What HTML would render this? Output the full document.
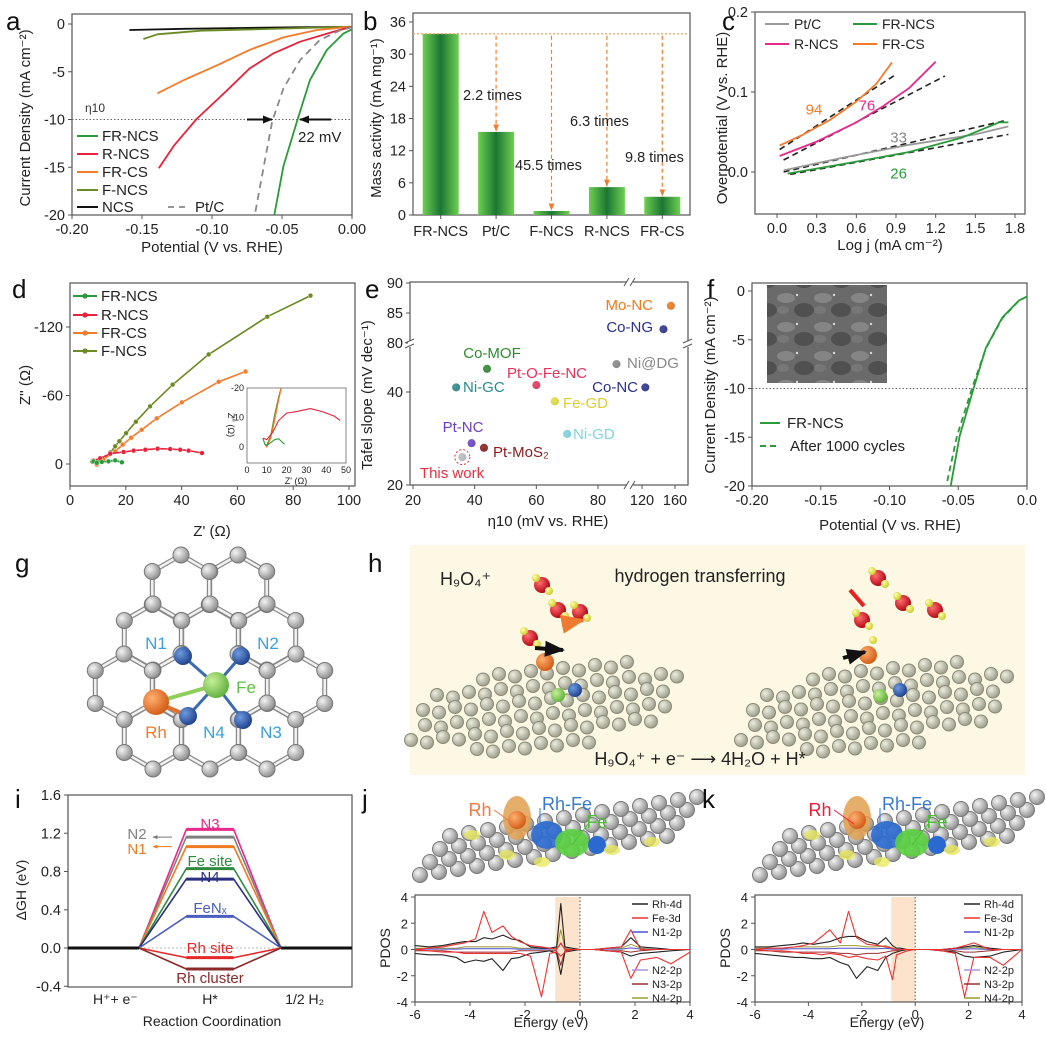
<!DOCTYPE html>
<html><head><meta charset="utf-8">
<style>
html,body{margin:0;padding:0;background:#fff;}
svg{display:block;font-family:"Liberation Sans",Arial,sans-serif;}
</style></head>
<body>
<svg id="fig" width="1046" height="1040" viewBox="0 0 1046 1040">
<defs>
<linearGradient id="barg" x1="0" x2="1" y1="0" y2="0"><stop offset="0" stop-color="#6fcf52"/><stop offset="0.5" stop-color="#1b7633"/><stop offset="1" stop-color="#6fcf52"/></linearGradient>
<radialGradient id="gAtom" cx="0.35" cy="0.35" r="0.7"><stop offset="0" stop-color="#f4f4f4"/><stop offset="1" stop-color="#8a8a8a"/></radialGradient>
<radialGradient id="bAtom" cx="0.35" cy="0.35" r="0.7"><stop offset="0" stop-color="#6f9be0"/><stop offset="1" stop-color="#1c3f8a"/></radialGradient>
<radialGradient id="fAtom" cx="0.35" cy="0.35" r="0.7"><stop offset="0" stop-color="#c8f09a"/><stop offset="1" stop-color="#5fb03a"/></radialGradient>
<radialGradient id="oAtom" cx="0.35" cy="0.35" r="0.7"><stop offset="0" stop-color="#ffb070"/><stop offset="1" stop-color="#d05a14"/></radialGradient>
<radialGradient id="rAtom" cx="0.35" cy="0.35" r="0.7"><stop offset="0" stop-color="#ff7070"/><stop offset="1" stop-color="#b00010"/></radialGradient>
<radialGradient id="yAtom" cx="0.35" cy="0.35" r="0.7"><stop offset="0" stop-color="#ffffb0"/><stop offset="1" stop-color="#c8c820"/></radialGradient>
<radialGradient id="sAtom" cx="0.35" cy="0.35" r="0.7"><stop offset="0" stop-color="#eeeee0"/><stop offset="1" stop-color="#9a9a88"/></radialGradient>
<marker id="arrO" viewBox="0 0 10 10" refX="9" refY="5" markerWidth="6" markerHeight="6" orient="auto"><path d="M0,1L10,5L0,9z" fill="#f07a30"/></marker>
<marker id="arrK" viewBox="0 0 10 10" refX="9" refY="5" markerWidth="5" markerHeight="5" orient="auto"><path d="M0,1L10,5L0,9z" fill="#111"/></marker>
<marker id="arrG" viewBox="0 0 10 10" refX="9" refY="5" markerWidth="5" markerHeight="5" orient="auto"><path d="M0,1L10,5L0,9z" fill="#777"/></marker>
<marker id="arrN" viewBox="0 0 10 10" refX="9" refY="5" markerWidth="5" markerHeight="5" orient="auto"><path d="M0,1L10,5L0,9z" fill="#f07a20"/></marker>
<pattern id="tem" width="37" height="29" patternUnits="userSpaceOnUse"><rect width="37" height="29" fill="#6a6a6a"/><ellipse cx="9" cy="8" rx="9" ry="5" fill="#858585"/><ellipse cx="27" cy="20" rx="10" ry="7" fill="#505050"/><circle cx="20" cy="5" r="1.2" fill="#d8d8d8"/><circle cx="4" cy="22" r="1" fill="#cfcfcf"/><ellipse cx="6" cy="20" rx="6" ry="4" fill="#777"/></pattern>
</defs>
</svg>
<script>
const NS='http://www.w3.org/2000/svg';
const svg=document.getElementById('fig');

/* ---------- data ---------- */
// panel a
const aNCSx=[-0.159,-0.12,-0.08,-0.04,0];
const aNCSy=[-0.63,-0.5,-0.42,-0.35,-0.3];
const aFNCSx=[-0.149,-0.139,-0.108,-0.061,-0.001];
const aFNCSy=[-1.57,-1.08,-0.7,-0.52,-0.28];
const aFRCSx=[-0.139,-0.12,-0.096,-0.073,-0.049,-0.025,-0.001];
const aFRCSy=[-7.26,-5.86,-4.3,-2.7,-1.4,-0.63,-0.3];
const aRNCSx=[-0.138,-0.127,-0.111,-0.092,-0.073,-0.056,-0.037,-0.013,0];
const aRNCSy=[-15.1,-12.7,-9.95,-7.33,-4.64,-3.07,-1.85,-0.8,-0.28];
const aPtCx=[-0.069,-0.063,-0.057,-0.049,-0.037,-0.023,-0.008,0];
const aPtCy=[-19.65,-14.9,-10.2,-6.74,-3.77,-1.68,-0.63,-0.35];
const aFRNCSx=[-0.0555,-0.049,-0.039,-0.03,-0.018,-0.006,0];
const aFRNCSy=[-20,-14.9,-10.05,-5.86,-2.72,-0.98,-0.56];
const aXTicks=[-0.2,-0.15,-0.1,-0.05,0];
const aXLabels=['-0.20','-0.15','-0.10','-0.05','0.00'];
const aYTicks=[0,-5,-10,-15,-20];
// panel b
const bCats=['FR-NCS','Pt/C','F-NCS','R-NCS','FR-CS'];
const bVals=[33.8,15.5,0.75,5.2,3.4];
const bNotes=['','2.2 times','45.5 times','6.3 times','9.8 times'];
const bYTicks=[0,6,12,18,24,30,36];
// panel c
const cFRCSx=[0.02,0.2,0.4,0.6,0.75,0.87];
const cFRCSy=[0.033,0.047,0.065,0.088,0.11,0.137];
const cRNCSx=[0.02,0.3,0.6,0.8,1.0,1.2];
const cRNCSy=[0.02,0.038,0.062,0.082,0.105,0.138];
const cPtCx=[0.05,0.5,1.0,1.5,1.75];
const cPtCy=[0.002,0.018,0.034,0.047,0.057];
const cFRNCSx=[0.08,0.5,1.0,1.4,1.68,1.75];
const cFRNCSy=[-0.002,0.01,0.025,0.043,0.062,0.062];
const cFitFRCSx=[0.02,0.9], cFitFRCSy=[0.028,0.122];
const cFitRNCSx=[0.05,1.27], cFitRNCSy=[0.015,0.12];
const cFitPtCx=[0.05,1.72], cFitPtCy=[0.0,0.064];
const cFitFRNCSx=[0.1,1.75], cFitFRNCSy=[-0.003,0.047];
const cSlopes=['94','76','33','26'];
const cXTicks=[0,0.3,0.6,0.9,1.2,1.5,1.8];
const cYTicks=[0,0.1,0.2];
// panel d (values are -Z'')
const dFRNCSx=[8.4,9.6,11.4,13.8,16.2,18.6];
const dFRNCSy=[2.3,1,1.8,2.3,3.2,1.5];
const dRNCSx=[8.4,10.8,14.4,19.2,22.8,27,31.4,35.9,39.5,42.5,47.3];
const dRNCSy=[3,5,9,10.5,11.7,12.5,13.4,13.1,12.5,11.7,9.6];
const dFRCSx=[9.6,12,16.2,18.9,21.9,25.7,31.1,40.1,53.3,62.9];
const dFRCSy=[-0.5,4,11,17,23,30,40,54,72,81];
const dFNCSx=[8,10,12,14.4,16.2,17.7,20.1,23.6,28.7,36.8,49.7,70.7,86.2];
const dFNCSy=[2,2,4,10,15.5,20,27,37,50.5,69.5,96,129,147.5];
const dInRx=[8,10,13,16,20,25,32,38,44,47];
const dInRy=[3,2.5,5,9,11.5,12,13,12,10.5,9];
const dInGx=[8,9,10,12,14,16,18,19];
const dInGy=[3,1,0.5,1.5,2.5,2.8,1.5,1];
const dInOx=[9,10,12,14,16,18];
const dInOy=[1,0,3,9,16,22];
const dInFx=[9,10,12,14,16,18];
const dInFy=[1,0.5,4,11,17,22];
const dXTicks=[0,20,40,60,80,100];
const dYTicks=[0,60,120];
// panel e
const eNames=['This work','Pt-NC','Pt-MoS2','Co-MOF','Ni-GC','Pt-O-Fe-NC','Fe-GD','Ni-GD','Ni@DG','Co-NC','Mo-NC','Co-NG'];
const eEta=[36,39,43,44,34,60,66,70,86,124,155,146];
const eTafel=[26,29,28,45,41,41.5,38,31,46,41,86.2,82.3];
// panel f
const fFRNCSx=[-0.0555,-0.049,-0.039,-0.03,-0.018,-0.006,0];
const fFRNCSy=[-20,-14.9,-10.05,-5.86,-2.72,-0.98,-0.56];
const fAfterx=[-0.058,-0.051,-0.04,-0.03,-0.018,-0.006,0];
const fAftery=[-19.5,-14.9,-10,-5.9,-2.8,-1.0,-0.56];
// panel i
const iNames=['N3','N2','N1','Fe site','N4','FeNx','Rh site','Rh cluster'];
const iLevels=[1.24,1.16,1.06,0.83,0.72,0.33,-0.10,-0.22];
const iYTicks=[-0.4,0,0.4,0.8,1.2,1.6];
// panels j,k
const pE=[-6,-5.5,-5,-4.5,-4.2,-3.8,-3.5,-3.2,-2.8,-2.5,-2.2,-1.8,-1.4,-1.1,-0.85,-0.7,-0.55,-0.3,0,0.5,1,1.5,1.85,2.2,2.8,3.3,4];
const jFeUp=[0,0.1,0.2,0.4,0.5,0.8,2.9,1.3,1.8,1,0.6,0.3,0.2,0.1,0,0.5,0,0,0,0,0.1,0.2,1.5,0,0,0,0];
const jFeDn=[0,-0.1,-0.2,-0.2,-0.3,-0.3,-0.3,-0.3,-0.3,-0.3,-0.3,-0.5,-3.6,-0.3,-0.2,-0.5,-0.2,0,0,0,-0.1,-0.2,-2.2,-0.8,-0.6,-1.1,-0.2];
const jRhUp=[0.3,0.2,0.3,0.5,0.6,0.6,0.9,0.8,1.1,0.8,0.7,0.2,0.1,0.1,0.2,3.5,0.2,0.1,0,0,0.1,0.2,0.9,0.2,0.1,0,0];
const jRhDn=[-0.3,-0.4,-0.4,-0.6,-1,-0.8,-0.9,-0.7,-1.6,-0.7,-0.6,-0.3,-0.2,-0.1,-0.3,-1.9,-0.2,-0.1,0,0,-0.1,-0.2,-0.5,-0.3,-0.2,-0.1,0];
const jNUp=[0.1,0.1,0.1,0.1,0.2,0.2,0.2,0.2,0.2,0.2,0.1,0.1,0.1,0.1,0.1,1.5,0.1,0,0,0,0.1,0.1,0.4,0.1,0,0,0];
const jNDn=[-0.1,-0.1,-0.1,-0.2,-0.2,-0.2,-0.2,-0.2,-0.2,-0.2,-0.1,-0.1,-0.1,-0.1,-0.1,-1.2,-0.1,0,0,0,-0.1,-0.1,-0.2,-0.1,0,0,0];
const kFeUp=[0,0.1,0.1,0.2,0.3,0.5,1.0,1.5,0.5,2.9,0.9,0.4,0.3,0.2,0.1,0,0,0,0,0,0,0.1,0.3,0.5,0,0,0];
const kFeDn=[0,-0.1,-0.1,-0.2,-0.3,-0.3,-0.4,-0.3,-0.4,-0.6,-0.5,-0.7,-0.8,-0.5,-2.3,-0.4,-0.3,-0.1,0,0,-0.1,-0.3,-3.6,-0.6,-0.6,-1.2,0];
const kRhUp=[0.2,0.2,0.3,0.4,0.5,0.4,0.5,0.6,0.9,1.0,1.0,0.6,0.4,0.9,0.3,0.1,0.1,0,0,0,0,0.1,0.2,0.3,0.1,0,0];
const kRhDn=[-0.3,-0.4,-0.5,-0.6,-0.6,-0.7,-0.7,-0.6,-1.0,-1.2,-2.2,-1.3,-1.6,-0.6,-0.3,-0.2,-0.1,0,0,0,-0.1,-0.2,-0.5,-0.6,-0.5,-0.2,0];
const kNUp=[0.1,0.1,0.1,0.2,0.2,0.2,0.2,0.2,0.3,0.3,0.3,0.2,0.2,0.3,0.1,0,0,0,0,0,0,0.1,0.1,0.2,0,0,0];
const kNDn=[-0.1,-0.1,-0.2,-0.2,-0.2,-0.2,-0.2,-0.2,-0.3,-0.3,-0.4,-0.3,-0.3,-0.2,-0.1,-0.1,0,0,0,0,0,-0.1,-0.2,-0.2,-0.1,0,0];
const pXTicks=[-6,-4,-2,0,2,4];
const pYTicks=[-4,-2,0,2,4];

/* ---------- helpers ---------- */
function el(tag,attrs,name,parent){
  const e=document.createElementNS(NS,tag);
  for(const k in attrs)e.setAttribute(k,attrs[k]);
  
  
  (parent||svg).appendChild(e);return e;
}
function tx(x,y,s,o,name){
  o=o||{};
  const at={x:x,y:y,'font-size':o.fs||14,'text-anchor':o.a||'middle',fill:o.c||'#222'};
  if(o.t)at.transform=o.t;
  const e=el('text',at,name,o.p);
  e.textContent=s;return e;
}
function lin(d0,d1,r0,r1){return v=>r0+(v-d0)*(r1-r0)/(d1-d0);}
function pth(xs,ys,sx,sy){return xs.map((x,i)=>(i?'L':'M')+sx(x).toFixed(1)+','+sy(ys[i]).toFixed(1)).join('');}
function line(xs,ys,sx,sy,color,w,name,dash){
  const a={d:pth(xs,ys,sx,sy),fill:'none',stroke:color,'stroke-width':w||1.6,'stroke-linejoin':'round'};
  if(dash)a['stroke-dasharray']=dash;
  return el('path',a,name);
}
function frame(x0,y0,x1,y1,name){el('rect',{x:x0,y:y0,width:x1-x0,height:y1-y0,fill:'none',stroke:'#555','stroke-width':1.2},name);}
function xticks(vals,labels,sx,yb,name,fs){vals.forEach((v,i)=>{
  el('line',{x1:sx(v),x2:sx(v),y1:yb,y2:yb+4,stroke:'#555'},name+'-tick');
  if(labels[i]!=null)tx(sx(v),yb+(fs?fs+4:19),labels[i],{fs:fs||14.5},name+'-label');});}
function yticks(vals,labels,sy,xl,name,fs){vals.forEach((v,i)=>{
  el('line',{x1:xl-4,x2:xl,y1:sy(v),y2:sy(v),stroke:'#555'},name+'-tick');
  if(labels[i]!=null)tx(xl-7,sy(v)+5,labels[i],{fs:fs||14.5,a:'end'},name+'-label');});}
function letter(x,y,s){tx(x,y,s,{fs:26,a:'start',c:'#111'},'panel-label-'+s);}
function atom(x,y,r,g,name){return el('circle',{cx:x,cy:y,r:r,fill:'url(#'+g+')'},name);}

/* ---------- panel a ---------- */
letter(6,30,'a');
const xa=lin(-0.2,0,72,352), ya=lin(0,-20,24,215);
frame(72,14,352,215,'panel-a-frame');
xticks(aXTicks,aXLabels,xa,215,'a-x');
yticks(aYTicks,aYTicks.map(String),ya,72,'a-y');
el('line',{x1:72,x2:352,y1:ya(-10),y2:ya(-10),stroke:'#666','stroke-dasharray':'1.5,2','stroke-width':1},'a-eta10-line');
tx(85,112,'η10',{fs:12,a:'start',c:'#333'},'a-eta10-label');
line(aNCSx,aNCSy,xa,ya,'#111',1.8,'a-series-ncs');
line(aFNCSx,aFNCSy,xa,ya,'#6b8a23',1.8,'a-series-fncs');
line(aFRCSx,aFRCSy,xa,ya,'#f47b2a',1.8,'a-series-frcs');
line(aRNCSx,aRNCSy,xa,ya,'#e8223a',1.8,'a-series-rncs');
line(aPtCx,aPtCy,xa,ya,'#888',1.8,'a-series-ptc','7,5');
line(aFRNCSx,aFRNCSy,xa,ya,'#2a9a3a',1.8,'a-series-frncs');
el('line',{x1:247,y1:ya(-10),x2:272,y2:ya(-10),stroke:'#111','stroke-width':2,'marker-end':'url(#arrK)'},'a-arrow-left');
el('line',{x1:331,y1:ya(-10),x2:300,y2:ya(-10),stroke:'#111','stroke-width':2,'marker-end':'url(#arrK)'},'a-arrow-right');
tx(298,142,'22 mV',{fs:15,a:'start'},'a-22mv-label');
[['FR-NCS','#2a9a3a',136],['R-NCS','#e8223a',154],['FR-CS','#f47b2a',172],['F-NCS','#6b8a23',190],['NCS','#111',207]].forEach(r=>{
  el('line',{x1:77,x2:98,y1:r[2],y2:r[2],stroke:r[1],'stroke-width':2},'a-legend-line');
  tx(102,r[2]+5,r[0],{fs:15,a:'start'},'a-legend-label');});
el('line',{x1:168,x2:187,y1:207,y2:207,stroke:'#888','stroke-width':1.8,'stroke-dasharray':'6,5'},'a-legend-line-ptc');
tx(195,212,'Pt/C',{fs:15,a:'start'},'a-legend-label-ptc');
tx(30,118,'Current Density (mA cm⁻²)',{fs:15,t:'rotate(-90 30 118)'},'a-y-axis-title');
tx(212,252,'Potential (V vs. RHE)',{fs:15},'a-x-axis-title');

/* ---------- panel b ---------- */
letter(363,30,'b');
const yb=lin(0,36,215,22);
const bx0=413,bx1=690,bStep=(bx1-bx0)/bCats.length;
const xb=i=>bx0+bStep*(i+0.5);
frame(bx0,13,bx1,215,'panel-b-frame');
yticks(bYTicks,bYTicks.map(String),yb,bx0,'b-y');
bCats.forEach((c,i)=>{
  el('rect',{x:xb(i)-18,y:yb(bVals[i]),width:36,height:yb(0)-yb(bVals[i]),fill:'url(#barg)'},'b-bar-'+c.toLowerCase().replace('/',''));
  el('line',{x1:xb(i),x2:xb(i),y1:215,y2:219,stroke:'#555'},'b-x-tick');
  tx(xb(i),236,c,{fs:14.5},'b-x-label');
});
el('line',{x1:bx0,x2:bx1,y1:yb(bVals[0]),y2:yb(bVals[0]),stroke:'#f49a50','stroke-dasharray':'2,2','stroke-width':1.2},'b-reference-line');
bCats.forEach((c,i)=>{ if(i===0)return;
  el('line',{x1:xb(i),x2:xb(i),y1:yb(bVals[0])+2,y2:yb(bVals[i])-1,stroke:'#f07a30','stroke-width':1.2,'stroke-dasharray':'4,3','marker-end':'url(#arrO)'},'b-ratio-arrow');
});
[[463,100,'start'],[515,170,'start'],[570,126,'start'],[625,162,'start']].forEach((p,k)=>tx(p[0],p[1],bNotes[k+1],{fs:14.5,a:p[2]},'b-ratio-note'));
tx(381,118,'Mass activity (mA mg⁻¹)',{fs:15,t:'rotate(-90 381 118)'},'b-y-axis-title');

/* ---------- panel c ---------- */
letter(722,30,'c');
const xc=lin(0,1.8,777,1015), yc=lin(0,0.2,172,12);
frame(755,12,1025,214,'panel-c-frame');
xticks(cXTicks,cXTicks.map(v=>v.toFixed(1)),xc,214,'c-x');
yticks(cYTicks,cYTicks.map(v=>v.toFixed(1)),yc,755,'c-y');
line(cFitFRCSx,cFitFRCSy,xc,yc,'#222',1.6,'c-fit-frcs','6,4');
line(cFitRNCSx,cFitRNCSy,xc,yc,'#222',1.6,'c-fit-rncs','6,4');
line(cFitPtCx,cFitPtCy,xc,yc,'#222',1.6,'c-fit-ptc','6,4');
line(cFitFRNCSx,cFitFRNCSy,xc,yc,'#222',1.6,'c-fit-frncs','6,4');
line(cFRCSx,cFRCSy,xc,yc,'#f47b2a',1.8,'c-series-frcs');
line(cRNCSx,cRNCSy,xc,yc,'#e8288a',1.8,'c-series-rncs');
line(cPtCx,cPtCy,xc,yc,'#999',1.8,'c-series-ptc');
line(cFRNCSx,cFRNCSy,xc,yc,'#2a9a3a',1.8,'c-series-frncs');
tx(xc(0.28),yc(0.072),cSlopes[0],{fs:15,c:'#f47b2a'},'c-slope-frcs');
tx(xc(0.68),yc(0.077),cSlopes[1],{fs:15,c:'#e8288a'},'c-slope-rncs');
tx(xc(0.92),yc(0.037),cSlopes[2],{fs:15,c:'#888'},'c-slope-ptc');
tx(xc(0.92),yc(-0.008),cSlopes[3],{fs:15,c:'#2a9a3a'},'c-slope-frncs');
[['Pt/C','#999',765,24],['FR-NCS','#2a9a3a',853,24],['R-NCS','#e8288a',765,44],['FR-CS','#f47b2a',853,44]].forEach(r=>{
  el('line',{x1:r[2],x2:r[2]+24,y1:r[3],y2:r[3],stroke:r[1],'stroke-width':2},'c-legend-line');
  tx(r[2]+29,r[3]+5,r[0],{fs:14,a:'start'},'c-legend-label');});
tx(727,118,'Overpotential (V vs. RHE)',{fs:15,t:'rotate(-90 727 118)'},'c-y-axis-title');
tx(890,250,'Log j (mA cm⁻²)',{fs:15},'c-x-axis-title');

/* ---------- panel d ---------- */
letter(12,298,'d');
const xd=lin(0,100,70,349), yd=lin(0,120,464,327);
frame(70,283,355,486,'panel-d-frame');
xticks(dXTicks,dXTicks.map(String),xd,486,'d-x');
yticks(dYTicks,dYTicks.map(v=>v?'-'+v:'0'),yd,70,'d-y');
function dSeries(xs,ys,sx,sy,color,name,r){
  line(xs,ys,sx,sy,color,1.6,name);
  xs.forEach((x,i)=>el('circle',{cx:sx(x),cy:sy(ys[i]),r:r,fill:color,stroke:'#fff','stroke-width':0.4},name+'-marker'));
}
dSeries(dFNCSx,dFNCSy,xd,yd,'#6b8a23','d-series-fncs',2.4);
dSeries(dFRCSx,dFRCSy,xd,yd,'#f47b2a','d-series-frcs',2.4);
dSeries(dRNCSx,dRNCSy,xd,yd,'#e8223a','d-series-rncs',2.4);
dSeries(dFRNCSx,dFRNCSy,xd,yd,'#2a9a3a','d-series-frncs',2.4);
[['FR-NCS','#2a9a3a',296],['R-NCS','#e8223a',315],['FR-CS','#f47b2a',333],['F-NCS','#6b8a23',351]].forEach(r=>{
  el('line',{x1:73,x2:97,y1:r[2],y2:r[2],stroke:r[1],'stroke-width':2},'d-legend-line');
  el('circle',{cx:85,cy:r[2],r:2.6,fill:r[1]},'d-legend-marker');
  tx(101,r[2]+5,r[0],{fs:15,a:'start'},'d-legend-label');});
const xdi=lin(0,50,247,346), ydi=lin(0,20,447,388);
el('rect',{x:247,y:388,width:99,height:75,fill:'#fff',stroke:'#666','stroke-width':0.8},'d-inset-frame');
el('clipPath',{id:'dclip'},'d-inset-clip');
el('rect',{x:247,y:388,width:99,height:75},'d-inset-clip-rect',document.getElementById('dclip'));
const dg=el('g',{'clip-path':'url(#dclip)'},'d-inset-plot');
[[dInFx,dInFy,'#6b8a23'],[dInOx,dInOy,'#f47b2a'],[dInRx,dInRy,'#e8223a'],[dInGx,dInGy,'#2a9a3a']].forEach((s,k)=>{
  el('path',{d:pth(s[0],s[1],xdi,ydi),fill:'none',stroke:s[2],'stroke-width':1.1},'d-inset-series',dg);});
[0,10,20,30,40,50].forEach(v=>tx(xdi(v),473,String(v),{fs:9},'d-inset-x-label'));
[0,10,20].forEach(v=>tx(244,ydi(v)+3,v?'-'+v:'0',{fs:9,a:'end'},'d-inset-y-label'));
tx(296,484,"Z' (Ω)",{fs:9},'d-inset-x-title');
tx(228,425,"Z'' (Ω)",{fs:9,t:'rotate(90 228 425)'},'d-inset-y-title');
tx(30,385,"Z'' (Ω)",{fs:15,t:'rotate(-90 30 385)'},'d-y-axis-title');
tx(212,536,"Z' (Ω)",{fs:15},'d-x-axis-title');

/* ---------- panel e ---------- */
letter(365,298,'e');
const exL=lin(20,80,413,598), exU=lin(120,160,642,675);
const eyL=lin(20,40,485,392), eyU=lin(85,90,313,283);
const ex=v=>v<=100?exL(v):exU(v), ey=v=>v<=60?eyL(v):eyU(v);
frame(410,282,688,485,'panel-e-frame');
[20,40,60,80].forEach(v=>{el('line',{x1:exL(v),x2:exL(v),y1:485,y2:489,stroke:'#555'},'e-x-tick');tx(exL(v),505,String(v),{fs:14.5},'e-x-label');});
[120,160].forEach(v=>{el('line',{x1:exU(v),x2:exU(v),y1:485,y2:489,stroke:'#555'},'e-x-tick');tx(exU(v),505,String(v),{fs:14.5},'e-x-label');});
[20,40].forEach(v=>{el('line',{x1:406,x2:410,y1:eyL(v),y2:eyL(v),stroke:'#555'},'e-y-tick');tx(403,eyL(v)+5,String(v),{fs:14.5,a:'end'},'e-y-label');});
[80,85,90].forEach(v=>{el('line',{x1:406,x2:410,y1:eyU(v),y2:eyU(v),stroke:'#555'},'e-y-tick');tx(403,eyU(v)+5,String(v),{fs:14.5,a:'end'},'e-y-label');});
[[630,282],[630,485]].forEach(p=>{el('rect',{x:p[0]-3,y:p[1]-2,width:6,height:4,fill:'#fff'},'e-axis-break-gap');
  el('path',{d:'M'+(p[0]-6)+','+(p[1]+4)+'l5,-8M'+(p[0])+','+(p[1]+4)+'l5,-8',stroke:'#555',fill:'none'},'e-axis-break');});
[[410,345],[688,345]].forEach(p=>{el('rect',{x:p[0]-2,y:p[1]-4,width:4,height:6,fill:'#fff'},'e-axis-break-gap');
  el('path',{d:'M'+(p[0]-5)+','+(p[1]-2)+'l9,-4M'+(p[0]-5)+','+(p[1]+3)+'l9,-4',stroke:'#555',fill:'none'},'e-axis-break');});
const eCol=['#bdbdbd','#6a3fc7','#8b1a1a','#2e8b2e','#2a8a8a','#e8305a','#e5e03a','#7fd6e0','#888','#2a2f8f','#f07a20','#2a2f8f'];
const eLab=[[452,478,'middle','#e83040'],[463,432,'middle','#6a3fc7'],[493,457,'start','#8b1a1a'],[492,358,'middle','#2e8b2e'],[463,392,'start','#2a8a8a'],[547,378,'middle','#e8305a'],[563,408,'start','#d8d030'],[573,439,'start','#7fd6e0'],[627,368,'start','#888'],[638,392,'end','#2a2f8f'],[653,310,'end','#f07a20'],[653,332,'end','#2a2f8f']];
eNames.forEach((n,i)=>{
  atom(ex(eEta[i]),ey(eTafel[i]),4,'gAtom','e-point-bg');
  el('circle',{cx:ex(eEta[i]),cy:ey(eTafel[i]),r:4,fill:eCol[i],opacity:0.85},'e-point-'+n.toLowerCase());
  tx(eLab[i][0],eLab[i][1],n==='Pt-MoS2'?'Pt-MoS₂':n,{fs:15,a:eLab[i][2],c:eLab[i][3]},'e-point-label');
});
el('circle',{cx:ex(eEta[0]),cy:ey(eTafel[0]),r:7.5,fill:'none',stroke:'#e83040','stroke-dasharray':'2,2'},'e-this-work-ring');
tx(372,395,'Tafel slope (mV dec⁻¹)',{fs:15,t:'rotate(-90 372 395)'},'e-y-axis-title');
tx(548,526,'η10 (mV vs. RHE)',{fs:15},'e-x-axis-title');

/* ---------- panel f ---------- */
letter(707,298,'f');
const xf=lin(-0.2,0,752,1027), yf=lin(0,-20,291,486);
frame(752,283,1027,486,'panel-f-frame');
xticks([-0.2,-0.15,-0.1,-0.05,0],['-0.20','-0.15','-0.10','-0.05','0.0'],xf,486,'f-x');
yticks([0,-5,-10,-15,-20],['0','-5','-10','-15','-20'],yf,752,'f-y');
el('rect',{x:767,y:285,width:120,height:98,fill:'url(#tem)'},'f-inset-micrograph');
el('line',{x1:752,x2:1027,y1:yf(-10),y2:yf(-10),stroke:'#666','stroke-dasharray':'1.5,2'},'f-eta10-line');
line(fAfterx,fAftery,xf,yf,'#2a9a3a',1.8,'f-series-after-1000','6,4');
line(fFRNCSx,fFRNCSy,xf,yf,'#2a9a3a',1.8,'f-series-frncs');
el('line',{x1:760,x2:780,y1:423,y2:423,stroke:'#2a9a3a','stroke-width':2},'f-legend-line');
tx(787,428,'FR-NCS',{fs:15,a:'start'},'f-legend-label');
el('line',{x1:760,x2:780,y1:446,y2:446,stroke:'#2a9a3a','stroke-width':2,'stroke-dasharray':'6,4'},'f-legend-line');
tx(790,451,'After 1000 cycles',{fs:15,a:'start'},'f-legend-label');
tx(715,385,'Current Density (mA cm⁻²)',{fs:15,t:'rotate(-90 715 385)'},'f-y-axis-title');
tx(890,530,'Potential (V vs. RHE)',{fs:15},'f-x-axis-title');

/* ---------- panel g ---------- */
letter(15,572,'g');
(function(){
  const R=33;
  const hexRows=[[588,[181,238]],[637,[153,210,267]],[687,[124,181,238,296]],[736,[153,210,267]]];
  const verts={}, edges={};
  const key=(x,y)=>Math.round(x)+','+Math.round(y);
  hexRows.forEach(row=>row[1].forEach(hx=>{
    const hy=row[0];const pts=[];
    for(let k=0;k<6;k++){const a=Math.PI/180*(60*k-90);pts.push([hx+R*0.87*Math.cos(a)/0.866,hy+R*Math.sin(a)]);}
    pts.forEach((p,k)=>{verts[key(p[0],p[1])]=p;const q=pts[(k+1)%6];const ek=[key(p[0],p[1]),key(q[0],q[1])].sort().join('|');edges[ek]=[p,q];});
  }));
  const g=el('g',{},'g-graphene-lattice');
  const near=p=>Math.hypot(p[0]-212,p[1]-686)<36;
  Object.values(edges).forEach(e=>{ if(near(e[0])||near(e[1]))return;
    el('line',{x1:e[0][0],y1:e[0][1],x2:e[1][0],y2:e[1][1],stroke:'#888','stroke-width':5},'g-bond-outline',g);
    el('line',{x1:e[0][0],y1:e[0][1],x2:e[1][0],y2:e[1][1],stroke:'#f2f2f2','stroke-width':2.5},'g-bond',g);});
  Object.values(verts).forEach(p=>{ if(near(p))return; atom(p[0],p[1],8,'gAtom','g-carbon-atom').setAttribute('stroke','#777');});
  const N=[[183,656],[241,656],[243,720],[188,716]];
  N.forEach(n=>el('line',{x1:216,y1:685,x2:n[0],y2:n[1],stroke:'#3a6ab0','stroke-width':3},'g-fe-n-bond'));
  el('line',{x1:216,y1:685,x2:156,y2:702,stroke:'#8dcf5a','stroke-width':4},'g-fe-rh-bond');
  el('line',{x1:156,y1:702,x2:188,y2:716,stroke:'#e07030','stroke-width':4},'g-rh-n-bond');
  N.forEach(n=>atom(n[0],n[1],9,'bAtom','g-nitrogen-atom'));
  atom(216,685,13,'fAtom','g-iron-atom');
  atom(156,702,13,'oAtom','g-rhodium-atom');
  tx(156,649,'N1',{fs:17,c:'#3aa0e0'},'g-label-n1');
  tx(268,649,'N2',{fs:17,c:'#3aa0e0'},'g-label-n2');
  tx(271,738,'N3',{fs:17,c:'#3aa0e0'},'g-label-n3');
  tx(214,738,'N4',{fs:17,c:'#3aa0e0'},'g-label-n4');
  tx(246,693,'Fe',{fs:17,c:'#5cc040'},'g-label-fe');
  tx(156,738,'Rh',{fs:17,c:'#f07a30'},'g-label-rh');
})();

/* ---------- panel h ---------- */
letter(368,572,'h');
el('rect',{x:410,y:545,width:615,height:230,fill:'#fcf8e3'},'h-background');
function sheet(x0,y0,name){
  const g=el('g',{},name);
  for(let r=0;r<6;r++)for(let c=0;c<16;c++){
    const x=x0+c*16+r*-6+(r&1?8:0), y=y0+r*15-c*1.5+ (c%2?4:0);
    if((r===0&&(c<3||c>12))||(r===5&&(c<4||c>11)))continue;
    atom(x,y,6.5,'sAtom','h-carbon-atom').setAttribute('stroke','#8a8a78');
  }
  return g;
}
sheet(435,680,'h-graphene-left');
sheet(765,680,'h-graphene-right');
atom(545,662,9,'oAtom','h-rh-atom-left');atom(575,690,7,'bAtom','h-n-atom');atom(558,695,7,'fAtom','h-fe-atom');
atom(868,655,9,'oAtom','h-rh-atom-right');atom(900,690,7,'bAtom','h-n-atom');atom(880,696,7,'fAtom','h-fe-atom');
[[542,585],[558,610],[580,612],[530,638],[878,578],[903,603],[935,610],[862,620]].forEach(p=>{
  atom(p[0],p[1],8,'rAtom','h-oxygen-atom');
  atom(p[0]-6,p[1]-7,4,'yAtom','h-hydrogen-atom');atom(p[0]+7,p[1]+6,4,'yAtom','h-hydrogen-atom');});
atom(873,640,4,'yAtom','h-transferred-hydrogen');
el('path',{d:'M563,624L583,620',stroke:'#e82020','stroke-width':4,'marker-end':'url(#arrO)',fill:'none'},'h-red-arrow');
el('path',{d:'M850,590L864,606',stroke:'#e82020','stroke-width':4,fill:'none'},'h-red-arrow');
el('path',{d:'M535,648L563,650',stroke:'#111','stroke-width':4,'marker-end':'url(#arrK)',fill:'none'},'h-black-arrow');
el('path',{d:'M843,658L865,652',stroke:'#111','stroke-width':4,'marker-end':'url(#arrK)',fill:'none'},'h-black-arrow');
tx(440,585,'H₉O₄⁺',{fs:18,a:'start'},'h-h9o4-label');
tx(700,582,'hydrogen transferring',{fs:18},'h-title');
tx(700,765,'H₉O₄⁺ + e⁻ ⟶ 4H₂O + H*',{fs:18},'h-reaction-equation');

/* ---------- panel i ---------- */
letter(15,808,'i');
const xi=lin(0,3,68,352), yi=lin(0,1.6,948,795);
frame(68,795,352,987,'panel-i-frame');
yticks(iYTicks,iYTicks.map(v=>v.toFixed(1)),yi,68,'i-y');
const iCol=['#e8288a','#808080','#f07a20','#2e8b3e','#2a2f7f','#4a5ec0','#e82828','#8b2a2a'];
el('line',{x1:xi(0),x2:xi(3),y1:yi(0),y2:yi(0),stroke:'#bbb','stroke-width':1,'stroke-dasharray':'2,2'},'i-zero-line');
iLevels.forEach((L,k)=>{
  line([0.75,1.25,1.75,2.25],[0,L,L,0],xi,yi,iCol[k],1.6,'i-path-'+iNames[k].toLowerCase().replace(' ','-'));
  line([1.25,1.75],[L,L],xi,yi,iCol[k],3,'i-level-'+iNames[k].toLowerCase().replace(' ','-'));
});
line([0,0.75],[0,0],xi,yi,'#111',3,'i-initial-state');
line([2.25,3],[0,0],xi,yi,'#111',3,'i-final-state');
tx(210,829,'N3',{fs:15,c:iCol[0]},'i-label-n3');
tx(137,839,'N2',{fs:15,c:iCol[1]},'i-label-n2');
el('line',{x1:172,x2:153,y1:yi(1.16),y2:yi(1.16),stroke:'#777','marker-end':'url(#arrG)'},'i-arrow-n2');
tx(137,854,'N1',{fs:15,c:iCol[2]},'i-label-n1');
el('line',{x1:172,x2:153,y1:yi(1.06),y2:yi(1.06),stroke:'#f07a20','marker-end':'url(#arrN)'},'i-arrow-n1');
tx(210,866,'Fe site',{fs:15,c:iCol[3]},'i-label-fe-site');
tx(210,882,'N4',{fs:15,c:iCol[4]},'i-label-n4');
tx(210,913,'FeNₓ',{fs:15,c:iCol[5]},'i-label-fenx');
tx(210,953,'Rh site',{fs:15,c:iCol[6]},'i-label-rh-site');
tx(210,983,'Rh cluster',{fs:15,c:iCol[7]},'i-label-rh-cluster');
tx(xi(0.5),1004,'H⁺+ e⁻',{fs:14},'i-x-label-initial');
tx(xi(1.5),1004,'H*',{fs:14},'i-x-label-adsorbed');
tx(xi(2.5),1004,'1/2 H₂',{fs:14},'i-x-label-final');
tx(212,1026,'Reaction Coordination',{fs:14},'i-x-axis-title');
tx(26,890,'ΔGH (eV)',{fs:14,t:'rotate(-90 26 890)'},'i-y-axis-title');

/* ---------- panels j,k ---------- */
function pdos(x0,x1,L,FeUp,FeDn,RhUp,RhDn,NUp,NDn,rhColor){
  letter(x0-50,808,L);
  const g=el('g',{},L+'-structure');
  for(let r=0;r<4;r++)for(let c=0;c<14;c++){
    const x=x0+8+c*19+r*10, y=875-r*13-c*3;
    atom(x,y,7.5,'gAtom',L+'-carbon-atom').setAttribute('stroke','#777');
  }
  el('ellipse',{cx:x0+105,cy:818,rx:14,ry:22,fill:'#e0a050',opacity:0.85},L+'-rh-density');
  atom(x0+105,820,9,'oAtom',L+'-rh-atom');
  el('ellipse',{cx:x0+135,cy:835,rx:16,ry:14,fill:'#2a6ad0',opacity:0.9},L+'-rhfe-density');
  el('ellipse',{cx:x0+160,cy:843,rx:17,ry:14,fill:'#5ad040',opacity:0.9},L+'-fe-density');
  el('ellipse',{cx:x0+185,cy:845,rx:9,ry:9,fill:'#2a6ad0'},L+'-n-density');
  [[x0+60,835],[x0+95,855],[x0+130,862],[x0+200,850],[x0+240,842]].forEach(p=>el('ellipse',{cx:p[0],cy:p[1],rx:8,ry:5,fill:'#e8e860',opacity:0.8},L+'-charge-lobe'));
  tx(x0+68,816,'Rh',{fs:18,c:rhColor},L+'-label-rh');
  el('line',{x1:x0+82,y1:810,x2:x0+102,y2:824,stroke:rhColor},L+'-rh-pointer');
  tx(x0+155,810,'Rh-Fe',{fs:18,c:'#3a7ad0'},L+'-label-rhfe');
  el('line',{x1:x0+128,y1:808,x2:x0+128,y2:835,stroke:'#3a7ad0'},L+'-rhfe-pointer');
  tx(x0+185,828,'Fe',{fs:18,c:'#4ac030'},L+'-label-fe');
  el('line',{x1:x0+176,y1:824,x2:x0+160,y2:845,stroke:'#4ac030'},L+'-fe-pointer');
  const sx=lin(-6,4,x0+3,x1), sy=lin(-4,4,1002,897);
  el('rect',{x:sx(-0.9),y:sy(4),width:sx(0)-sx(-0.9),height:sy(-4)-sy(4),fill:'#fbe3cc'},L+'-fermi-window');
  el('line',{x1:sx(0),x2:sx(0),y1:sy(4),y2:sy(-4),stroke:'#555','stroke-dasharray':'1.5,2'},L+'-fermi-level');
  frame(x0+3,sy(4)-2,x1,sy(-4),L+'-frame');
  xticks(pXTicks,pXTicks.map(String),sx,1002,L+'-x',13);
  yticks(pYTicks,pYTicks.map(String),sy,x0+3,L+'-y',13);
  line(pE,NUp,sx,sy,'#9a9a30',1,L+'-series-n4-up');
  line(pE,NDn,sx,sy,'#9a3030',1,L+'-series-n3-down');
  line(pE,NUp.map(v=>v*0.3),sx,sy,'#5050d0',1,L+'-series-n1-up');
  line(pE,RhUp,sx,sy,'#222',1.1,L+'-series-rh4d-up');
  line(pE,RhDn,sx,sy,'#222',1.1,L+'-series-rh4d-down');
  line(pE,FeUp,sx,sy,'#f03030',1.1,L+'-series-fe3d-up');
  line(pE,FeDn,sx,sy,'#f03030',1.1,L+'-series-fe3d-down');
  [['Rh-4d','#222',904],['Fe-3d','#f03030',918],['N1-2p','#5050d0',932],['N2-2p','#b090e0',970],['N3-2p','#9a3030',984],['N4-2p','#9a9a30',998]].forEach(r=>{
    el('line',{x1:x1-58,x2:x1-42,y1:r[2],y2:r[2],stroke:r[1],'stroke-width':1.5},L+'-legend-line');
    tx(x1-38,r[2]+4,r[0],{fs:11,a:'start'},L+'-legend-label');});
  tx(x0-22,948,'PDOS',{fs:14,t:'rotate(-90 '+(x0-22)+' 948)'},L+'-y-axis-title');
  tx((x0+x1)/2,1027,'Energy (eV)',{fs:14},L+'-x-axis-title');
}
pdos(412,690,'j',jFeUp,jFeDn,jRhUp,jRhDn,jNUp,jNDn,'#f07a40');
pdos(752,1022,'k',kFeUp,kFeDn,kRhUp,kRhDn,kNUp,kNDn,'#e8203a');
</script>
</body></html>
